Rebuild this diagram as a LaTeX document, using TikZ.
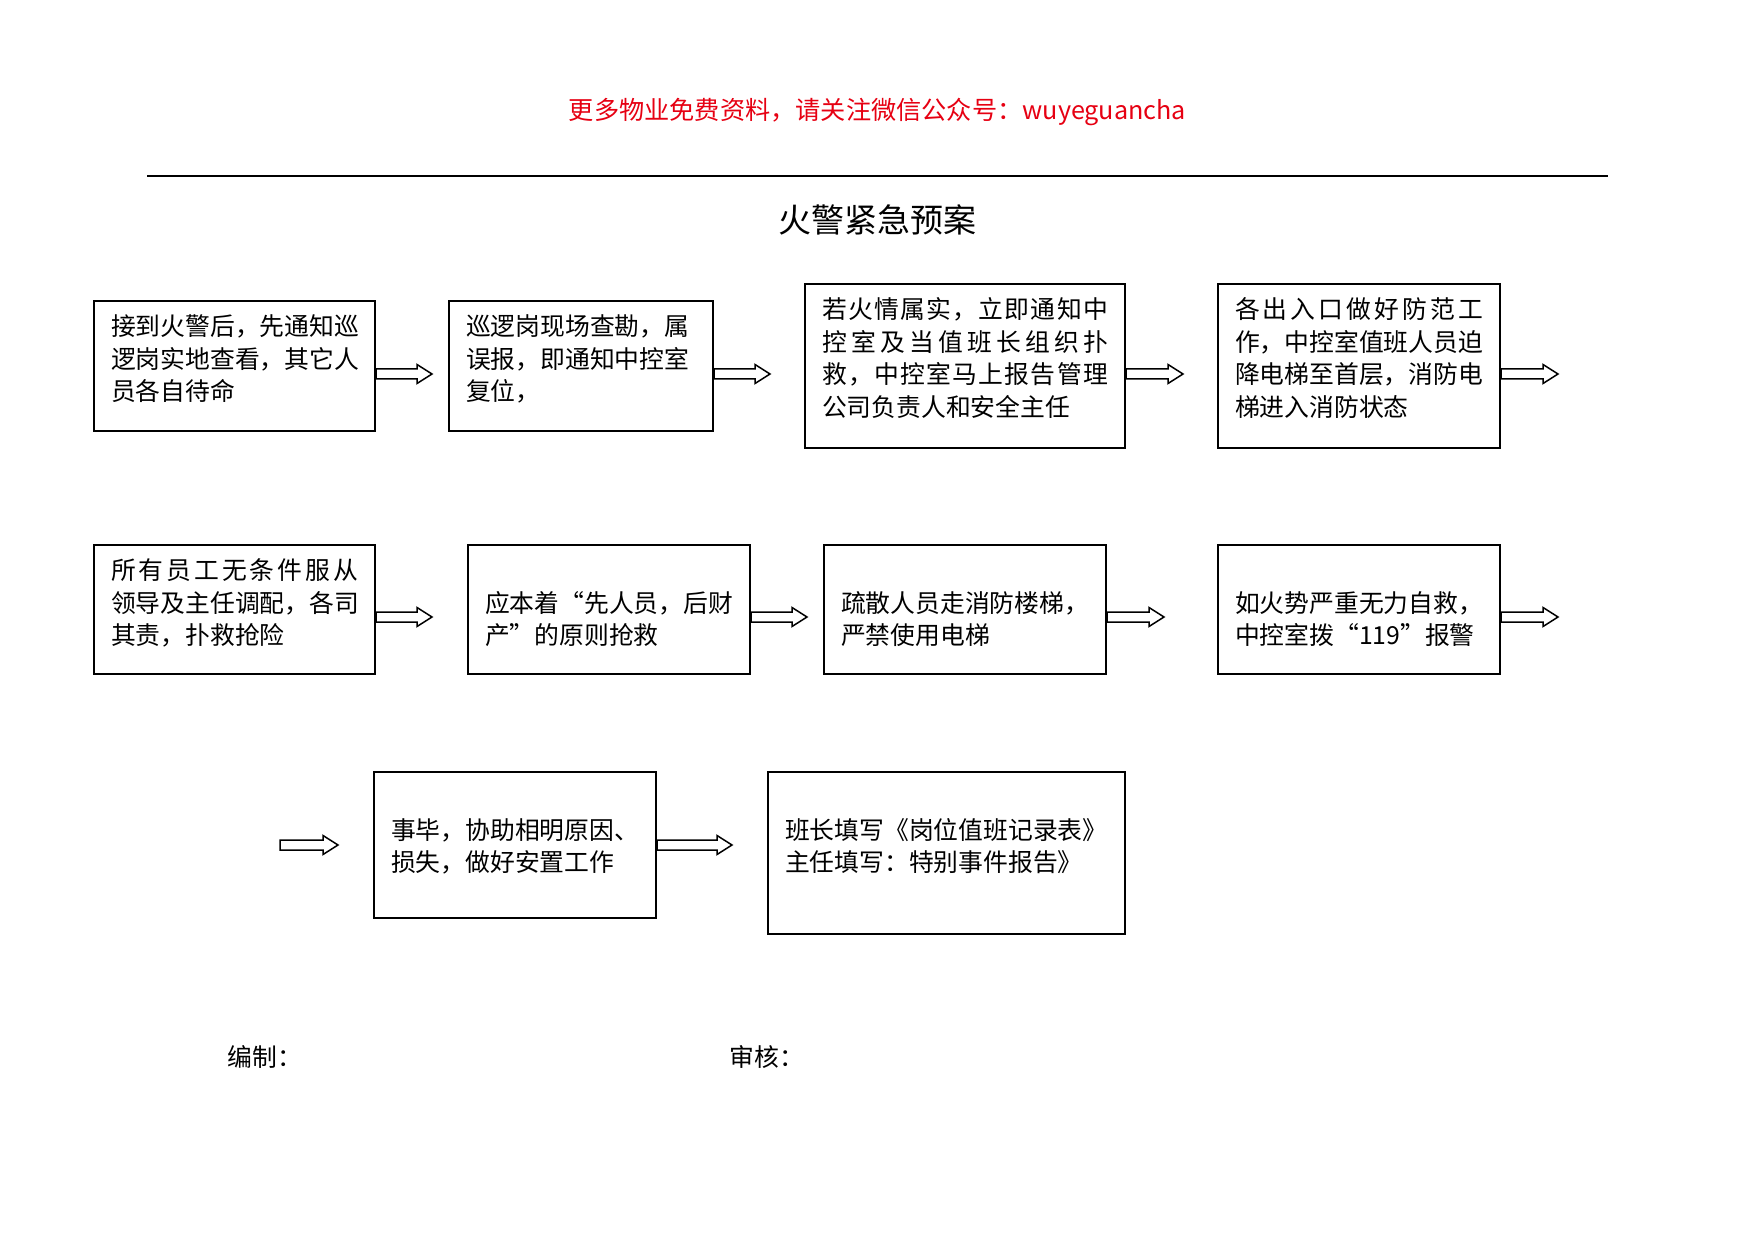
\documentclass[tikz,border=0pt]{standalone}
\usepackage{fontspec}
\setmainfont{Noto Sans CJK SC}
\usetikzlibrary{calc}
\definecolor{notered}{RGB}{230,0,18}
\tikzstyle{stepbox}=[draw, line width=1pt, inner xsep=8.5pt, inner ysep=6pt]
\tikzstyle{fat arrow}=[to path={($(\tikztostart)+(0,5)$) -- ($(\tikztotarget)+(-15,5)$) -- ($(\tikztotarget)+(-15,9.5)$) -- (\tikztotarget) -- ($(\tikztotarget)+(-15,-9.5)$) -- ($(\tikztotarget)+(-15,-5)$) -- ($(\tikztostart)+(0,-5)$) -- cycle}]
\newcommand{\stepbox}{\node[stepbox]}
\newcommand{\steptext}[3]{\parbox[c][#1][t]{#2}{\strut#3}}
\makeatletter
\newcommand{\spreadline}[1]{\hbox to \linewidth{\@tfor\spreadtok:=#1\do{\spreadtok\hfil}\unskip}}
\makeatother

\begin{document}
\begin{tikzpicture}[x=0.5pt, y=-0.5pt
    ,every node/.style={font=\fontsize{12.4pt}{16.25pt}\selectfont}
    ,every edge/.style={draw, line width=.75pt, fat arrow}
]
\useasboundingbox (0,0) rectangle (1755,1240);
\node[text=notered, font=\fontsize{12.6pt}{15pt}\selectfont] (note) at (877.5,112) {更多物业免费资料，请关注微信公众号：wuyeguancha};
\draw[line width=.75pt] (147,176) -- (1608,176);
\node[font=\fontsize{16.5pt}{20pt}\selectfont] (title) at (877,220) {火警紧急预案};

% first row
\stepbox (a) at (234.5,366) {\steptext{53pt}{123.5pt}{接到火警后，先通知巡\\逻岗实地查看，其它人\\员各自待命}};
\stepbox (b) at (581,366)   {\steptext{53pt}{115pt}{巡逻岗现场查勘，属\\误报，即通知中控室\\复位，}};
\stepbox (c) at (965,366)   {\steptext{70pt}{143pt}{\spreadline{若火情属实，立即通知中}\\\spreadline{控室及当值班长组织扑}\\\spreadline{救，中控室马上报告管理}\\公司负责人和安全主任}};
\stepbox (d) at (1359,366)  {\steptext{70pt}{124pt}{\spreadline{各出入口做好防范工}\\\spreadline{作，中控室值班人员迫}\\\spreadline{降电梯至首层，消防电}\\梯进入消防状态}};

% second row
\stepbox (e) at (234.5,609.5) {\steptext{52.5pt}{123.5pt}{\spreadline{所有员工无条件服从}\\领导及主任调配，各司\\其责，扑救抢险}};
\stepbox (f) at (609,609.5)   {\steptext{52.5pt}{124pt}{\\应本着“先人员，后财\\产”的原则抢救}};
\stepbox (g) at (965,609.5)   {\steptext{52.5pt}{124pt}{\\疏散人员走消防楼梯，\\严禁使用电梯}};
\stepbox (h) at (1359,609.5)  {\steptext{52.5pt}{124pt}{\\如火势严重无力自救，\\中控室拨“119”报警}};

% third row
\stepbox (i) at (515,845)   {\steptext{61pt}{124pt}{\\事毕，协助相明原因、\\损失，做好安置工作}};
\stepbox (j) at (946.5,853) {\steptext{69pt}{161.5pt}{\\班长填写《岗位值班记录表》\\主任填写：特别事件报告》}};

\node[anchor=west, inner sep=0pt] (made) at (227,1057) {编制：};
\node[anchor=west, inner sep=0pt] (checked) at (729,1057) {审核：};

\coordinate (ab) at (432,374);
\coordinate (bc) at (770,374);
\coordinate (cd) at (1183,374);
\coordinate (dx) at (1558,374);
\coordinate (ef) at (432,617);
\coordinate (fg) at (807,617);
\coordinate (gh) at (1164,617);
\coordinate (hx) at (1558,617);
\coordinate (lead) at (280,845);
\coordinate (ij) at (732,845);
\coordinate (li) at (338,845);

\path
(a.east |- ab) edge (ab)
(b.east |- bc) edge (bc)
(c.east |- cd) edge (cd)
(d.east |- dx) edge (dx)
(e.east |- ef) edge (ef)
(f.east |- fg) edge (fg)
(g.east |- gh) edge (gh)
(h.east |- hx) edge (hx)
(lead) edge (li)
(i.east |- ij) edge (ij)
;
\end{tikzpicture}
\end{document}
